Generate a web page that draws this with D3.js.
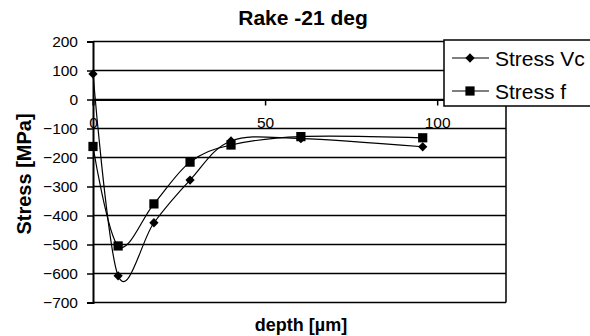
<!DOCTYPE html>
<html>
<head>
<meta charset="utf-8">
<title>Rake -21 deg</title>
<script src="https://d3js.org/d3.v7.min.js"></script>
<style>
  body { margin: 0; background: #fff; }
  text { font-family: "Liberation Sans", Arial, sans-serif; fill: #000; }
</style>
</head>
<body>
<script>
// depth in micrometres
var depthVc = [0, 7.3, 17.7, 28.2, 40.1, 60.4, 95.8];
var stressVc = [88, -608, -425, -278, -143, -135, -163];
var depthF = [0, 7.3, 17.7, 28.2, 40.1, 60.4, 95.8];
var stressF = [-162, -505, -360, -216, -157, -128, -132];
var yTicks = [200, 100, 0, -100, -200, -300, -400, -500, -600, -700];
var xTicks = [0, 50, 100];
var seriesNames = ["Stress Vc", "Stress f"];

var w = 590, h = 336;
var plotL = 93, plotR = 506, plotT = 41.5, plotB = 302.5;

var svg = d3.select("body").append("svg")
    .attr("width", w)
    .attr("height", h);

var x = d3.scaleLinear().domain([0, 120]).range([plotL, plotR]);
var y = d3.scaleLinear().domain([-700, 200]).range([plotB, plotT]);

// gridlines
svg.append("g").selectAll("line")
  .data(yTicks)
  .enter()
  .append("line")
    .attr("x1", plotL).attr("x2", plotR)
    .attr("y1", function(d) { return y(d); })
    .attr("y2", function(d) { return y(d); })
    .attr("stroke", "#000")
    .attr("stroke-width", 1.5);

// right border
svg.append("line")
    .attr("x1", plotR).attr("x2", plotR)
    .attr("y1", plotT).attr("y2", plotB)
    .attr("stroke", "#000").attr("stroke-width", 1.5);

// y axis
var yAxis = d3.axisLeft(y).tickValues(yTicks).tickSize(6).tickPadding(9);
var gy = svg.append("g").attr("transform", "translate(" + plotL + ",0)").call(yAxis);
gy.select(".domain").attr("stroke", "#000").attr("stroke-width", 2);
gy.selectAll(".tick line").attr("stroke", "#000").attr("stroke-width", 1.5);
gy.selectAll(".tick text").style("font-size", "15.5px").attr("font-family", null);

// x axis crossing at 0
var xAxis = d3.axisBottom(x).tickValues(xTicks).tickSize(6).tickPadding(11);
var gx = svg.append("g").attr("transform", "translate(0," + y(0) + ")").call(xAxis);
gx.select(".domain").attr("stroke", "#000").attr("stroke-width", 2);
gx.selectAll(".tick line").attr("stroke", "#000").attr("stroke-width", 1.5);
gx.selectAll(".tick text").style("font-size", "15.5px").attr("font-family", null);

// series
var line = d3.line()
    .x(function(d) { return x(d[0]); })
    .y(function(d) { return y(d[1]); })
    .curve(d3.curveCardinal.tension(0));

var vc = depthVc.map(function(d, i) { return [d, stressVc[i]]; });
var sf = depthF.map(function(d, i) { return [d, stressF[i]]; });

svg.append("path").datum(vc)
    .attr("d", line).attr("fill", "none")
    .attr("stroke", "#000").attr("stroke-width", 1.2);
svg.append("path").datum(sf)
    .attr("d", line).attr("fill", "none")
    .attr("stroke", "#000").attr("stroke-width", 1.2);

var diamond = d3.symbol().type(d3.symbolDiamond2).size(55);
var square = d3.symbol().type(d3.symbolSquare).size(85);

svg.append("g").selectAll("path")
  .data(vc)
  .enter()
  .append("path")
    .attr("d", diamond)
    .attr("transform", function(d) { return "translate(" + x(d[0]) + "," + y(d[1]) + ")"; })
    .attr("fill", "#000");

svg.append("g").selectAll("path")
  .data(sf)
  .enter()
  .append("path")
    .attr("d", square)
    .attr("transform", function(d) { return "translate(" + x(d[0]) + "," + y(d[1]) + ")"; })
    .attr("fill", "#000");

// titles
svg.append("text")
    .attr("x", 303).attr("y", 25)
    .attr("text-anchor", "middle")
    .style("font-size", "21px").style("font-weight", "bold")
    .text("Rake -21 deg");

svg.append("text")
    .attr("x", 301).attr("y", 331)
    .attr("text-anchor", "middle")
    .style("font-size", "18px").style("font-weight", "bold")
    .text("depth [µm]");

svg.append("text")
    .attr("transform", "translate(31,174) rotate(-90)")
    .attr("text-anchor", "middle")
    .style("font-size", "20px").style("font-weight", "bold")
    .text("Stress [MPa]");

// legend
var lg = svg.append("g");
lg.append("rect")
    .attr("x", 444).attr("y", 40)
    .attr("width", 160).attr("height", 66)
    .attr("fill", "#fff").attr("stroke", "#000").attr("stroke-width", 1.5);

var legendRows = lg.selectAll("g")
  .data(seriesNames)
  .enter()
  .append("g")
    .attr("transform", function(d, i) { return "translate(0," + (58 + i * 33) + ")"; });

legendRows.append("line")
    .attr("x1", 452).attr("x2", 489)
    .attr("stroke", "#000").attr("stroke-width", 1.2);
legendRows.append("path")
    .attr("d", function(d, i) { return i === 0 ? diamond() : square(); })
    .attr("transform", "translate(470,0)")
    .attr("fill", "#000");
legendRows.append("text")
    .attr("x", 495).attr("y", 7.5)
    .style("font-size", "21px")
    .text(function(d) { return d; });
</script>
</body>
</html>
